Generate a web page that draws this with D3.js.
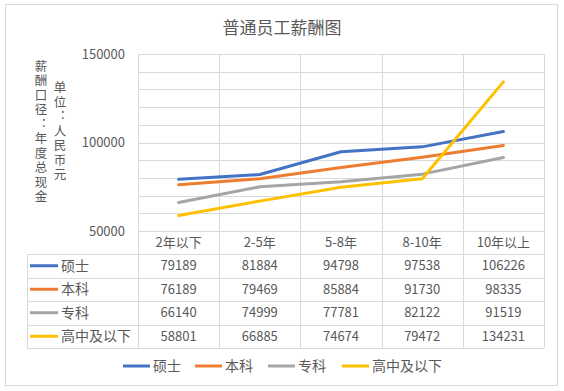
<!DOCTYPE html>
<html>
<head>
<meta charset="utf-8">
<script src="https://cdn.jsdelivr.net/npm/d3@7"></script>
<style>
  body { margin: 0; background: #fff; }
  text { font-family: "Noto Sans CJK SC", "Noto Sans", sans-serif; fill: #595959; }
</style>
</head>
<body>
<svg id="chart" width="564" height="391"></svg>
<script>
const categories = ['2年以下', '2-5年', '5-8年', '8-10年', '10年以上'];
const seriesNames = ['硕士', '本科', '专科', '高中及以下'];
const masters = [79189, 81884, 94798, 97538, 106226];
const bachelor = [76189, 79469, 85884, 91730, 98335];
const college = [66140, 74999, 77781, 82122, 91519];
const highSchool = [58801, 66885, 74674, 79472, 134231];
const yTicks = [50000, 100000, 150000];
const colors = ['#4472C4', '#ED7D31', '#A5A5A5', '#FFC000'];
const seriesValues = [masters, bachelor, college, highSchool];

const plot = { left: 138, right: 544, top: 54, bottom: 231 };
const table = { left: 27, top: 254, bottom: 348 };
const gridColor = '#D9D9D9';

const svg = d3.select('#chart');

// outer frame
svg.append('rect')
    .attr('x', 5.5).attr('y', 4.5)
    .attr('width', 552).attr('height', 381)
    .attr('fill', '#fff').attr('stroke', gridColor);

const xScale = d3.scaleBand().domain(categories).range([plot.left, plot.right]);
const yScale = d3.scaleLinear().domain([50000, 150000]).range([plot.bottom, plot.top]);
const rowScale = d3.scaleBand().domain(seriesNames).range([table.top, table.bottom]);

// horizontal gridlines every 10000
svg.append('g').selectAll('line')
    .data(d3.range(50000, 150001, 10000))
    .enter().append('line')
    .attr('x1', plot.left).attr('x2', plot.right)
    .attr('y1', d => Math.round(yScale(d)) + 0.5)
    .attr('y2', d => Math.round(yScale(d)) + 0.5)
    .attr('stroke', gridColor);

// vertical lines: plot + table columns
const bounds = categories.map(c => xScale(c)).concat([plot.right]);
svg.append('g').selectAll('line')
    .data(bounds)
    .enter().append('line')
    .attr('x1', d => Math.round(d) + 0.5).attr('x2', d => Math.round(d) + 0.5)
    .attr('y1', plot.top).attr('y2', table.bottom)
    .attr('stroke', gridColor);

// table horizontal lines and left border
const rowLines = seriesNames.map(s => rowScale(s)).concat([table.bottom]);
svg.append('g').selectAll('line')
    .data(rowLines)
    .enter().append('line')
    .attr('x1', table.left).attr('x2', plot.right)
    .attr('y1', d => Math.round(d) + 0.5).attr('y2', d => Math.round(d) + 0.5)
    .attr('stroke', gridColor);
svg.append('line')
    .attr('x1', table.left + 0.5).attr('x2', table.left + 0.5)
    .attr('y1', table.top).attr('y2', table.bottom)
    .attr('stroke', gridColor);

// y axis labels
svg.append('g').selectAll('text')
    .data(yTicks)
    .enter().append('text')
    .attr('x', 125)
    .attr('y', d => yScale(d))
    .attr('dy', '0.35em')
    .attr('text-anchor', 'end')
    .style('font-size', '13px')
    .text(d => d);

// category labels
svg.append('g').selectAll('text')
    .data(categories)
    .enter().append('text')
    .attr('x', d => xScale(d) + xScale.bandwidth() / 2)
    .attr('y', (plot.bottom + table.top) / 2)
    .attr('dy', '0.35em')
    .attr('text-anchor', 'middle')
    .style('font-size', '13px')
    .text(d => d);

// lines
const line = d3.line()
    .x((d, i) => xScale(categories[i]) + xScale.bandwidth() / 2)
    .y(d => yScale(d));

svg.append('g').selectAll('path')
    .data(seriesValues)
    .enter().append('path')
    .attr('d', d => line(d))
    .attr('fill', 'none')
    .attr('stroke', (d, i) => colors[i])
    .attr('stroke-width', 3)
    .attr('stroke-linejoin', 'round')
    .attr('stroke-linecap', 'round');

// table rows
seriesNames.forEach(function(name, i) {
    const cy = rowScale(name) + rowScale.bandwidth() / 2;
    svg.append('line')
        .attr('x1', 30).attr('x2', 58)
        .attr('y1', cy).attr('y2', cy)
        .attr('stroke', colors[i]).attr('stroke-width', 3);
    svg.append('text')
        .attr('x', 61).attr('y', cy).attr('dy', '0.35em')
        .style('font-size', '14px')
        .text(name);
    svg.append('g').selectAll('text')
        .data(seriesValues[i])
        .enter().append('text')
        .attr('x', (d, j) => xScale(categories[j]) + xScale.bandwidth() / 2)
        .attr('y', cy).attr('dy', '0.35em')
        .attr('text-anchor', 'middle')
        .style('font-size', '13px')
        .text(d => d);
});

// legend
const legendX = [123, 195, 268, 342];
const legend = svg.append('g').selectAll('g')
    .data(seriesNames)
    .enter().append('g')
    .attr('transform', (d, i) => 'translate(' + legendX[i] + ',366)');
legend.append('line')
    .attr('x1', 0).attr('x2', 27)
    .attr('stroke', (d, i) => colors[i]).attr('stroke-width', 3);
legend.append('text')
    .attr('x', 30).attr('dy', '0.35em')
    .style('font-size', '14px')
    .text(d => d);

// title
svg.append('text')
    .attr('x', 282).attr('y', 28).attr('dy', '0.35em')
    .attr('text-anchor', 'middle')
    .style('font-size', '17px')
    .text('普通员工薪酬图');

// vertical y-axis titles (upright stacked characters)
const axisTitles = [
    { x: 41, text: '薪酬口径：年度总现金' },
    { x: 60, text: '单位：人民币元' }
];
svg.append('g').selectAll('text')
    .data(axisTitles)
    .enter().append('text')
    .attr('x', d => d.x)
    .attr('y', 132)
    .attr('text-anchor', 'middle')
    .style('writing-mode', 'vertical-rl')
    .style('text-orientation', 'upright')
    .style('font-size', '12.5px')
    .style('letter-spacing', '2px')
    .text(d => d.text);
</script>
</body>
</html>
